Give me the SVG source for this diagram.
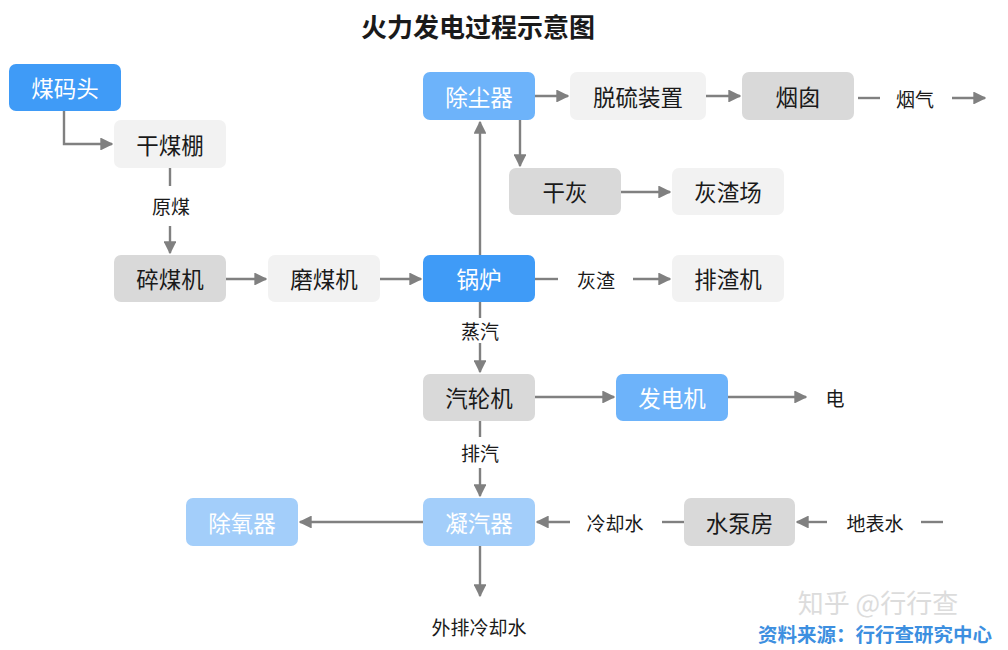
<svg xmlns="http://www.w3.org/2000/svg" width="1008" height="650" viewBox="0 0 1008 650">
<defs>
<marker id="ah" viewBox="0 0 10 10" refX="9" refY="5" markerWidth="5.4" markerHeight="5.4" orient="auto" markerUnits="strokeWidth">
<path d="M0,0 L10,5 L0,10 z" fill="#808080"/>
</marker>
<style>
.n rect{rx:7;ry:7}
.b1{fill:#3f9bf7}
.b2{fill:#6db3fa}
.b3{fill:#a3cefa}
.g1{fill:#f2f2f2}
.g2{fill:#d9d9d9}
.t{font-family:"Noto Sans CJK SC","Noto Sans",sans-serif;font-size:22.5px;text-anchor:middle;dominant-baseline:central;fill:#1a1a1a}
.w{fill:#ffffff}
.l{font-family:"Noto Sans CJK SC","Noto Sans",sans-serif;font-size:19px;text-anchor:middle;dominant-baseline:central;fill:#1a1a1a}
.c line,.c path{stroke:#808080;stroke-width:2.4;fill:none}
.a{marker-end:url(#ah)}
</style>
</defs>
<rect width="1008" height="650" fill="#ffffff"/>
<text x="478" y="25" font-family="Noto Sans CJK SC,sans-serif" font-size="26" font-weight="bold" text-anchor="middle" dominant-baseline="central" fill="#1a1a1a">火力发电过程示意图</text>

<g class="c">
<path class="a" d="M64,111 V144 H112"/>
<line x1="170" y1="168" x2="170" y2="186"/>
<line class="a" x1="170" y1="226" x2="170" y2="253"/>
<line class="a" x1="226" y1="279" x2="266" y2="279"/>
<line class="a" x1="380" y1="279" x2="421" y2="279"/>
<line class="a" x1="480" y1="255" x2="480" y2="122"/>
<line class="a" x1="535" y1="96" x2="568" y2="96"/>
<line class="a" x1="520" y1="120" x2="520" y2="166"/>
<line class="a" x1="706" y1="96" x2="740" y2="96"/>
<line x1="858" y1="98" x2="880" y2="98"/>
<line class="a" x1="952" y1="98" x2="985" y2="98"/>
<line class="a" x1="620" y1="192" x2="670" y2="192"/>
<line x1="535" y1="279" x2="558" y2="279"/>
<line class="a" x1="633" y1="279" x2="670" y2="279"/>
<line x1="480" y1="302" x2="480" y2="318"/>
<line class="a" x1="480" y1="343" x2="480" y2="372"/>
<line class="a" x1="535" y1="397" x2="614" y2="397"/>
<line class="a" x1="728" y1="397" x2="806" y2="397"/>
<line x1="480" y1="421" x2="480" y2="437"/>
<line class="a" x1="480" y1="468" x2="480" y2="496"/>
<line class="a" x1="423" y1="522" x2="300" y2="522"/>
<line class="a" x1="480" y1="546" x2="480" y2="596"/>
<line x1="662" y1="522" x2="684" y2="522"/>
<line class="a" x1="570" y1="522" x2="537" y2="522"/>
<line class="a" x1="827" y1="522" x2="797" y2="522"/>
<line x1="921" y1="522" x2="943" y2="522"/>
</g>

<g id="n-meimatou" class="n"><rect class="b1" x="9" y="64" width="112" height="47"/><text class="t w" x="65" y="87">煤码头</text></g>
<g id="n-ganmeipeng" class="n"><rect class="g1" x="114" y="120" width="112" height="48"/><text class="t" x="170" y="143.5">干煤棚</text></g>
<g id="n-suimeiji" class="n"><rect class="g2" x="114" y="255" width="112" height="47"/><text class="t" x="170" y="278">碎煤机</text></g>
<g id="n-momeiji" class="n"><rect class="g1" x="268" y="255" width="112" height="47"/><text class="t" x="324" y="278">磨煤机</text></g>
<g id="n-guolu" class="n"><rect class="b1" x="423" y="255" width="112" height="47"/><text class="t w" x="479" y="278">锅炉</text></g>
<g id="n-chuchenqi" class="n"><rect class="b2" x="423" y="72" width="112" height="48"/><text class="t w" x="479" y="95.5">除尘器</text></g>
<g id="n-tuoliu" class="n"><rect class="g1" x="570" y="72" width="136" height="48"/><text class="t" x="638" y="95.5">脱硫装置</text></g>
<g id="n-yancong" class="n"><rect class="g2" x="742" y="72" width="112" height="48"/><text class="t" x="798" y="95.5">烟囱</text></g>
<g id="n-ganhui" class="n"><rect class="g2" x="509" y="168" width="112" height="47"/><text class="t" x="565" y="191">干灰</text></g>
<g id="n-huizhachang" class="n"><rect class="g1" x="672" y="168" width="112" height="47"/><text class="t" x="728" y="191">灰渣场</text></g>
<g id="n-paizhaji" class="n"><rect class="g1" x="672" y="255" width="112" height="47"/><text class="t" x="728" y="278">排渣机</text></g>
<g id="n-qilunji" class="n"><rect class="g2" x="423" y="374" width="112" height="47"/><text class="t" x="479" y="397">汽轮机</text></g>
<g id="n-fadianji" class="n"><rect class="b2" x="616" y="374" width="112" height="47"/><text class="t w" x="672" y="397">发电机</text></g>
<g id="n-ningqiqi" class="n"><rect class="b3" x="423" y="498" width="112" height="48"/><text class="t w" x="479" y="521.5">凝汽器</text></g>
<g id="n-chuyangqi" class="n"><rect class="b3" x="186" y="498" width="112" height="48"/><text class="t w" x="242" y="521.5">除氧器</text></g>
<g id="n-shuibengfang" class="n"><rect class="g2" x="684" y="498" width="111" height="48"/><text class="t" x="739.5" y="521.5">水泵房</text></g>

<g id="labels">
<text class="l" x="171" y="205">原煤</text>
<text class="l" x="915" y="98">烟气</text>
<text class="l" x="596" y="279">灰渣</text>
<text class="l" x="480" y="330">蒸汽</text>
<text class="l" x="835" y="397">电</text>
<text class="l" x="480" y="452">排汽</text>
<text class="l" x="479" y="626">外排冷却水</text>
<text class="l" x="615" y="522">冷却水</text>
<text class="l" x="875" y="522">地表水</text>
</g>

<text x="878" y="601" font-family="Noto Sans CJK SC,sans-serif" font-size="26" text-anchor="middle" dominant-baseline="central" fill="#dcdcdc">知乎 @行行查</text>
<text x="875" y="633" font-family="Noto Sans CJK SC,sans-serif" font-size="19.5" font-weight="bold" text-anchor="middle" dominant-baseline="central" fill="#3d8fe0">资料来源：行行查研究中心</text>
</svg>
